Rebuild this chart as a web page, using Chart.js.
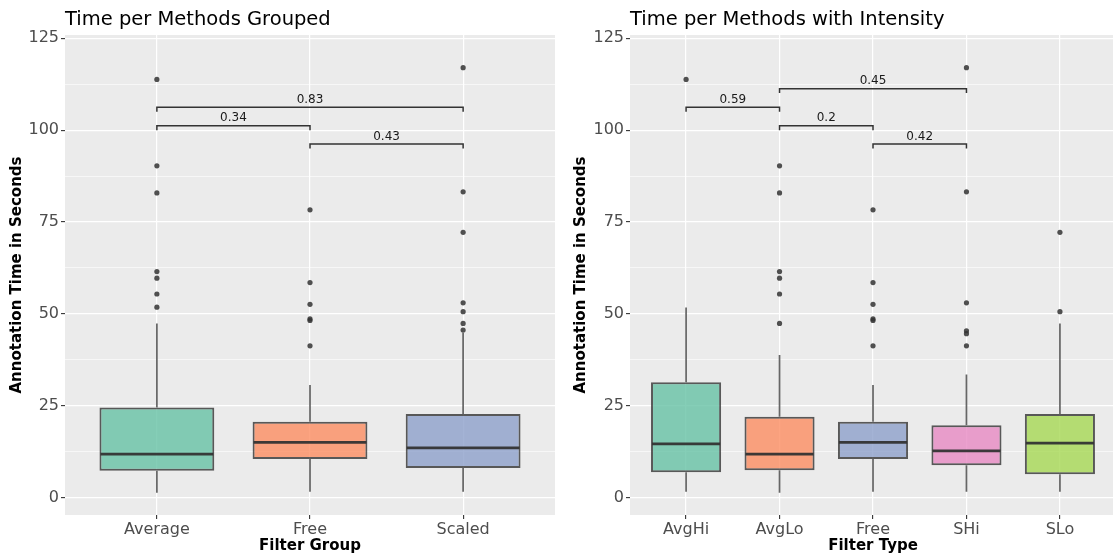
<!DOCTYPE html>
<html>
<head>
<meta charset="utf-8">
<script src="https://cdn.jsdelivr.net/npm/chart.js@4.4.1/dist/chart.umd.min.js"></script>
<style>
  html, body { margin: 0; padding: 0; background: #fff; }
  #wrap { position: relative; width: 1113px; height: 557px; overflow: hidden; }
  .panel { position: absolute; top: 0; width: 560px; height: 557px; }
</style>
</head>
<body>
<div id="wrap">
  <div class="panel" style="left:0"><canvas id="groupChart" width="560" height="557"></canvas></div>
  <div class="panel" style="left:560px"><canvas id="typeChart" width="560" height="557"></canvas></div>
</div>
<script>
// ---- dados: painel da esquerda (por grupo) ----
const groupCategories = ['Average', 'Free', 'Scaled'];
const groupQ1      = [7.3, 10.5, 8.0];
const groupMedian  = [11.8, 15.0, 13.5];
const groupQ3      = [24.5, 20.6, 22.7];
const groupLow     = [1.3, 1.6, 1.6];
const groupHigh    = [47.4, 30.6, 44.9];
const groupOutliers = [
  [113.8, 90.3, 82.9, 61.5, 59.7, 55.4, 51.8],
  [78.3, 58.5, 52.6, 48.6, 48.2, 41.3],
  [117.0, 83.2, 72.2, 53.0, 50.6, 47.4, 45.6]
];
const groupBrackets = [[0, 2], [0, 1], [1, 2]];
const groupBracketY = [106.2, 101.2, 96.2];
const groupBracketLabels = ['0.83', '0.34', '0.43'];

// ---- dados: painel da direita (por tipo) ----
const typeCategories = ['AvgHi', 'AvgLo', 'Free', 'SHi', 'SLo'];
const typeQ1      = [6.9, 7.4, 10.5, 8.8, 6.3];
const typeMedian  = [14.6, 11.8, 15.0, 12.7, 14.8];
const typeQ3      = [31.4, 22.0, 20.6, 19.7, 22.7];
const typeLow     = [1.6, 1.3, 1.6, 1.6, 1.6];
const typeHigh    = [51.7, 38.8, 30.6, 33.5, 47.4];
const typeOutliers = [
  [113.8],
  [90.3, 82.9, 61.5, 59.7, 55.4, 47.4],
  [78.3, 58.5, 52.6, 48.6, 48.2, 41.3],
  [117.0, 83.2, 53.0, 45.4, 44.6, 41.3],
  [72.2, 50.6]
];
const typeBrackets = [[1, 3], [0, 1], [1, 2], [2, 3]];
const typeBracketY = [111.3, 106.2, 101.2, 96.2];
const typeBracketLabels = ['0.45', '0.59', '0.2', '0.42'];

// eixo y compartilhado
const yTicks = [0, 12.5, 25, 37.5, 50, 62.5, 75, 87.5, 100, 112.5, 125];

// ---- estilos ----
const set2 = ['rgba(102,194,165,0.8)', 'rgba(252,141,98,0.8)', 'rgba(141,160,203,0.8)',
              'rgba(231,138,195,0.8)', 'rgba(166,216,84,0.8)'];
const FONT = '"DejaVu Sans", "Liberation Sans", sans-serif';
const INK = 'rgba(51,51,51,0.8)';

function buildPanel(canvasId, opts) {
  const cats = opts.categories;

  const boxData = cats.map((c, i) => ({ x: i, y: [opts.q1[i], opts.q3[i]] }));
  const outlierData = [];
  opts.outliers.forEach((vals, i) => vals.forEach(v => outlierData.push({ x: i, y: v })));

  // desenha fundo, bigodes, medianas, colchetes e título usando as escalas do Chart.js
  const boxPlugin = {
    id: 'boxParts',
    beforeDraw(chart) {
      const { ctx, chartArea: a } = chart;
      ctx.save();
      ctx.fillStyle = '#EBEBEB';
      ctx.fillRect(a.left, a.top, a.right - a.left, a.bottom - a.top);
      ctx.restore();
    },
    beforeDatasetsDraw(chart) {
      const { ctx, scales: { x, y } } = chart;
      ctx.save();
      ctx.strokeStyle = 'rgba(51,51,51,0.75)';
      ctx.lineWidth = 1.7;
      cats.forEach((c, i) => {
        const px = x.getPixelForValue(i);
        ctx.beginPath();
        ctx.moveTo(px, y.getPixelForValue(opts.low[i]));
        ctx.lineTo(px, y.getPixelForValue(opts.q1[i]));
        ctx.moveTo(px, y.getPixelForValue(opts.q3[i]));
        ctx.lineTo(px, y.getPixelForValue(opts.high[i]));
        ctx.stroke();
      });
      ctx.restore();
    },
    afterDatasetsDraw(chart) {
      const { ctx, scales: { x, y } } = chart;
      ctx.save();
      // medianas
      ctx.strokeStyle = 'rgba(51,51,51,0.95)';
      ctx.lineWidth = 2.8;
      cats.forEach((c, i) => {
        const py = y.getPixelForValue(opts.median[i]);
        ctx.beginPath();
        ctx.moveTo(x.getPixelForValue(i - 0.375) + 1, py);
        ctx.lineTo(x.getPixelForValue(i + 0.375) - 1, py);
        ctx.stroke();
      });
      // colchetes de significância
      ctx.strokeStyle = '#333';
      ctx.lineWidth = 1.5;
      ctx.fillStyle = '#1a1a1a';
      ctx.font = '12px ' + FONT;
      ctx.textAlign = 'center';
      ctx.textBaseline = 'alphabetic';
      opts.brackets.forEach((pair, k) => {
        const x1 = x.getPixelForValue(pair[0]);
        const x2 = x.getPixelForValue(pair[1]);
        const py = y.getPixelForValue(opts.bracketY[k]);
        const tip = y.getPixelForValue(opts.bracketY[k] - 1.2);
        ctx.beginPath();
        ctx.moveTo(x1, tip);
        ctx.lineTo(x1, py);
        ctx.lineTo(x2, py);
        ctx.lineTo(x2, tip);
        ctx.stroke();
        ctx.fillText(opts.bracketLabels[k], (x1 + x2) / 2, py - 4.6);
      });
      ctx.restore();
    },
    afterDraw(chart) {
      const { ctx, chartArea: a } = chart;
      ctx.save();
      ctx.fillStyle = '#000';
      ctx.font = '19.5px ' + FONT;
      ctx.textAlign = 'left';
      ctx.textBaseline = 'alphabetic';
      ctx.fillText(opts.title, a.left, 25);
      ctx.restore();
    }
  };

  return new Chart(document.getElementById(canvasId), {
    type: 'bar',
    data: {
      datasets: [{
        data: boxData,
        backgroundColor: cats.map((c, i) => set2[i]),
        borderColor: INK,
        borderWidth: 2,
        borderSkipped: false,
        barPercentage: 0.75,
        categoryPercentage: 1,
        order: 2
      }, {
        type: 'scatter',
        data: outlierData,
        backgroundColor: 'rgba(51,51,51,0.85)',
        borderWidth: 0,
        pointRadius: 2.6,
        order: 1
      }]
    },
    options: {
      responsive: false,
      animation: false,
      layout: { padding: { top: 35, right: opts.padRight, left: 0, bottom: 0 } },
      plugins: { legend: { display: false }, tooltip: { enabled: false } },
      scales: {
        x: {
          type: 'linear',
          min: -0.6,
          max: cats.length - 0.4,
          offset: false,
          afterBuildTicks: axis => { axis.ticks = cats.map((c, i) => ({ value: i })); },
          afterFit: axis => { axis.height = 42; },
          border: { display: false },
          grid: { color: '#fff', lineWidth: 1.2, offset: false, tickLength: 4, tickColor: '#333', tickWidth: 1.1 },
          ticks: {
            autoSkip: false, maxRotation: 0, padding: 1,
            color: '#4D4D4D', font: { family: FONT, size: 16 },
            callback: v => cats[v]
          },
          title: {
            display: true, text: opts.xTitle, color: '#000',
            font: { family: FONT, size: 15, weight: 'bold' },
            padding: { top: 0, bottom: 2 }
          }
        },
        y: {
          min: -4.76,
          max: 125.9,
          afterBuildTicks: axis => { axis.ticks = yTicks.map(v => ({ value: v })); },
          afterFit: axis => { axis.width = opts.yWidth; },
          border: { display: false },
          grid: {
            color: '#fff',
            lineWidth: c => (c.tick && c.tick.value % 25 === 0 ? 1.2 : 0.6),
            tickLength: 4,
            tickWidth: 1.1,
            tickColor: c => (c.tick && c.tick.value % 25 === 0 ? '#333' : 'rgba(0,0,0,0)')
          },
          ticks: {
            autoSkip: false, padding: 2,
            color: '#4D4D4D', font: { family: FONT, size: 16 },
            callback: v => (v % 25 === 0 ? v : '')
          },
          title: {
            display: true, text: 'Annotation Time in Seconds', color: '#000',
            font: { family: FONT, size: 15, weight: 'bold' },
            padding: { top: opts.yTitlePad, bottom: 0 }
          }
        }
      }
    },
    plugins: [boxPlugin]
  });
}

buildPanel('groupChart', {
  title: 'Time per Methods Grouped', xTitle: 'Filter Group',
  categories: groupCategories, q1: groupQ1, median: groupMedian, q3: groupQ3,
  low: groupLow, high: groupHigh, outliers: groupOutliers,
  brackets: groupBrackets, bracketY: groupBracketY, bracketLabels: groupBracketLabels,
  yWidth: 65, padRight: 5, yTitlePad: 8
});

buildPanel('typeChart', {
  title: 'Time per Methods with Intensity', xTitle: 'Filter Type',
  categories: typeCategories, q1: typeQ1, median: typeMedian, q3: typeQ3,
  low: typeLow, high: typeHigh, outliers: typeOutliers,
  brackets: typeBrackets, bracketY: typeBracketY, bracketLabels: typeBracketLabels,
  yWidth: 70, padRight: 1, yTitlePad: 12.5
});
</script>
</body>
</html>
